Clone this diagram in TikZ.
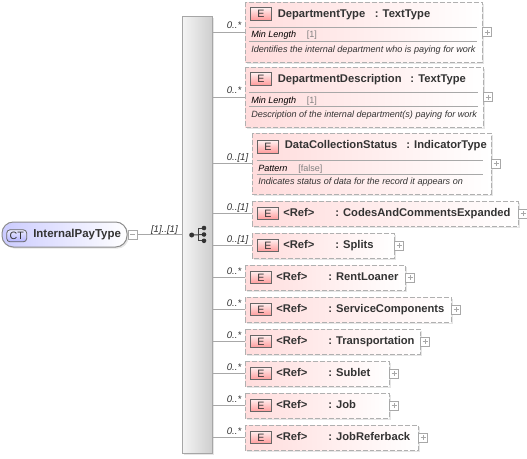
\documentclass[tikz,border=0pt]{standalone}
\usepackage{fontspec}
\setmainfont{Liberation Sans}
\usetikzlibrary{calc,shadows}
\definecolor{linegray}{HTML}{A8A8A8}
\definecolor{dashgray}{HTML}{B0B0B0}
\definecolor{pinkA}{HTML}{FFDCDC}
\definecolor{txt}{HTML}{333333}
\definecolor{subtxt}{HTML}{808080}
\tikzset{
  x=0.75pt,y=-0.75pt,
  conn/.style={draw=linegray,line width=0.75pt},
  pinkbox/.style={draw=dashgray,dashed,dash pattern=on 3.6pt off 1.5pt,line width=0.75pt,left color=pinkA,right color=white,shading angle=90,
    drop shadow={shadow xshift=1.2pt,shadow yshift=-1.2pt,fill=black,opacity=0.10}},
  ebadge/.style={draw=gray!80!black,line width=0.6pt,top color=red!6!white,bottom color=red!40!white,minimum width=16pt,minimum height=9.5pt,inner sep=0pt,font=\fontsize{8}{10}\selectfont,text=txt},
  plusbox/.style={draw=linegray,fill=white,line width=0.5pt,minimum width=6.5pt,minimum height=6.5pt,inner sep=0pt},
  title/.style={anchor=base west,inner sep=0pt,font=\bfseries\fontsize{8.4}{10}\selectfont,text=txt},
  card/.style={anchor=base east,inner sep=0pt,font=\itshape\fontsize{7.2}{9}\selectfont,text=txt},
  facet/.style={anchor=base west,inner sep=0pt,font=\itshape\fontsize{6.8}{9}\selectfont,text=black},
  facetv/.style={anchor=base west,inner sep=0pt,font=\fontsize{6.8}{9}\selectfont,text=subtxt},
  descr/.style={anchor=base west,inner sep=0pt,font=\itshape\fontsize{6.8}{9}\selectfont,text=txt},
  rule/.style={draw=linegray,line width=0.6pt},
}
% #1 name, #2 x0, #3 y0, #4 x1, #5 y1
\newcommand{\pbox}[5]{%
  \path[pinkbox] (#2,#3) rectangle (#4,#5);
  \coordinate (#1) at (#2,{(#3+#5)/2});
  \node[plusbox] (#1p) at ({#4+5},{(#3+#5)/2}) {};
  \draw[linegray,line width=0.5pt] ({#4+2.5},{(#3+#5)/2}) -- ({#4+7.5},{(#3+#5)/2}) ({#4+5},{(#3+#5)/2-2.5}) -- ({#4+5},{(#3+#5)/2+2.5});
}
\newcommand{\refbox}[7]{%
  \pbox{#1}{#2}{#3}{#4}{#5}
  \draw[conn] (bar.east |- #1) -- (#1);
  \node[card] at ({#2-3.5},{#3+9}) {#6};
  \node[ebadge] at ({#2+16},{(#3+#5)/2}) {E};
  \node[title] at ({#2+31},{#3+15.7}) {<Ref>};
  \node[title] at ({#2+83},{#3+15.7}) {: #7};
}
\def\fbadge{12}\def\fruleA{25}\def\fruleB{39}\def\frl{4}\def\frr{5}\def\fdesc{50}\def\fcard{4}
\newcommand{\fullbox}[9]{%
  \pbox{#1}{#2}{#3}{#4}{#5}
  \draw[conn] (bar.east |- #1) -- (#1);
  \node[card] at ({#2-3.5},{(#3+#5)/2-\fcard}) {#6};
  \node[ebadge] at ({#2+16},{#3+\fbadge}) {E};
  \node[title] at ({#2+32.5},{#3+15.5}) {#7};
  \draw[rule] ({#2+\frl},{#3+\fruleA}) -- ({#4-\frr},{#3+\fruleA});
  \draw[rule] ({#2+\frl},{#3+\fruleB}) -- ({#4-\frr},{#3+\fruleB});
  #8
  \node[descr] at ({#2+6},{#3+\fdesc}) {#9};
}
\begin{document}
\begin{tikzpicture}
\useasboundingbox (0,0) rectangle (527,458);
\fill[white] (0,0) rectangle (527,458);
% bar
\node[draw=gray!70,line width=0.6pt,left color=gray!8,right color=gray!38,shading angle=90,minimum width=22.5pt,minimum height=327.75pt,inner sep=0pt,
  drop shadow={shadow xshift=1.2pt,shadow yshift=-1.2pt,fill=black,opacity=0.10}] (bar) at (197,234.5) {};
% root
\node[draw=gray!90,line width=0.75pt,rounded corners=8.5pt,left color=blue!20!white,right color=white,minimum width=93.75pt,minimum height=18.75pt,inner sep=0pt,
  drop shadow={shadow xshift=1.2pt,shadow yshift=-1.2pt,fill=black,opacity=0.10}] (root) at (64.5,234.5) {};
\node[draw=gray!80!black,line width=0.6pt,rounded corners=2.5pt,top color=blue!8!white,bottom color=blue!30!white,minimum width=15pt,minimum height=9pt,inner sep=0pt,font=\fontsize{8}{10}\selectfont,text=txt] (ct) at (16.7,235.8) {CT};
\node[title,font=\bfseries\fontsize{8.6}{10}\selectfont] (rootlabel) at (33,237.5) {InternalPayType};
% root minus
\node[plusbox] (rootm) at (132.5,234.5) {};
\draw[linegray,line width=0.5pt] (130,234.5) -- (135,234.5);
\draw[conn] (rootm) -- (bar.west |- rootm);
\node[card] at (178,232) {[1]..[1]};
% sequence icon
\coordinate (s0) at (191.7,235);
\coordinate (s1) at (204,234.5);
\coordinate (s2) at (204,228);
\coordinate (s3) at (204,240.8);
\draw[black!75,line width=0.75pt] (s0) -- (s1);
\draw[black!75,line width=0.75pt] (s2) -- (198,228) -- (198,240.8) -- (s3);
\fill[black!80] (s0) circle (2.5);
\fill[black!80] (s1) circle (2.3);
\fill[black!80] (s2) circle (2.3);
\fill[black!80] (s3) circle (2.3);
% elements
\fullbox{a}{245}{2}{482}{62}{0..*}{DepartmentType\hspace{2.5pt}\ \ : TextType}{%
  \node[facet] at (251,37.5) {Min Length};
  \node[facetv] at (306.5,37.5) {[1]};}{Identifies the internal department who is paying for work}
\fullbox{b}{245}{67}{483}{127}{0..*}{DepartmentDescription\hspace{2pt}\ \ : TextType}{%
  \node[facet] at (251,103) {Min Length};
  \node[facetv] at (306.5,103) {[1]};}{Description of the internal department(s) paying for work}
\def\fbadge{14}\def\fruleA{27}\def\fruleB{41}\def\frl{4.7}\def\frr{8}\def\fdesc{51}\def\fcard{3}
\fullbox{c}{252}{133}{491}{194}{0..[1]}{DataCollectionStatus\hspace{2pt}\ \ : IndicatorType}{%
  \node[facet] at (258,171) {Pattern};
  \node[facetv] at (298,171) {[false]};}{Indicates status of data for the record it appears on}
\refbox{d}{252}{201}{518}{226}{0..[1]}{CodesAndCommentsExpanded}
\refbox{e}{252}{233}{394}{258}{0..[1]}{Splits}
\refbox{f}{245}{265}{405}{290}{0..*}{RentLoaner}
\refbox{g}{245}{297}{451}{322}{0..*}{ServiceComponents}
\refbox{h}{245}{329}{420}{354}{0..*}{Transportation}
\refbox{i}{245}{361}{389}{386}{0..*}{Sublet}
\refbox{j}{245}{393}{389}{418}{0..*}{Job}
\refbox{k}{245}{425}{418}{450}{0..*}{JobReferback}
\end{tikzpicture}
\end{document}
